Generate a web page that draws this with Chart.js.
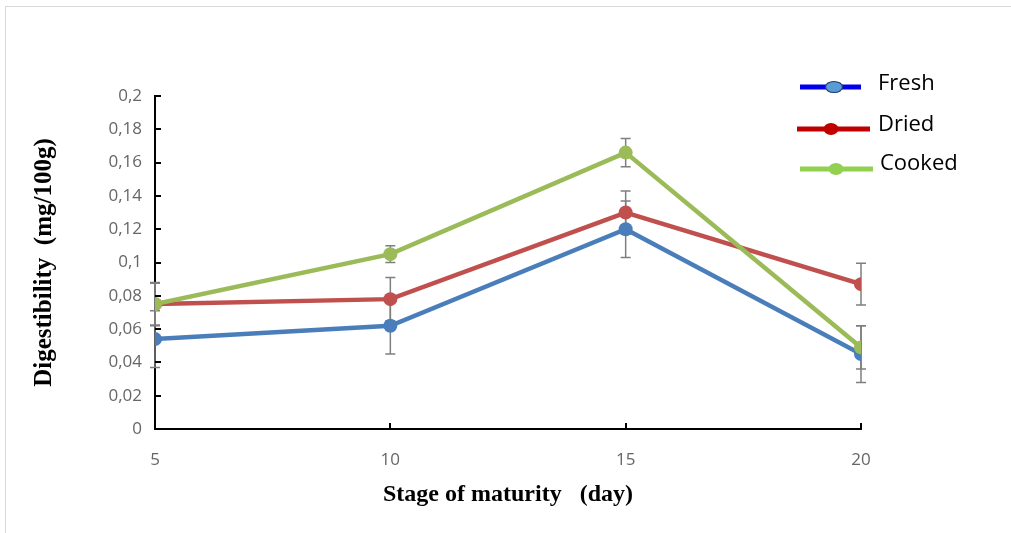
<!DOCTYPE html>
<html>
<head>
<meta charset="utf-8">
<script src="https://cdn.jsdelivr.net/npm/chart.js@4.4.1/dist/chart.umd.min.js"></script>
<style>
  html, body { margin: 0; padding: 0; background: #fff; }
  #wrap { position: relative; width: 1011px; height: 533px; overflow: hidden; }
  #frame { position: absolute; left: 5px; top: 6px; width: 1010px; height: 540px; border: 1px solid #d9d9d9; box-sizing: border-box; }
  canvas { position: absolute; left: 0; top: 0; }
</style>
</head>
<body>
<div id="wrap">
  <div id="frame"></div>
  <canvas id="c" width="1011" height="533"></canvas>
</div>
<script>
const days = [5, 10, 15, 20];
const fresh = [0.054, 0.062, 0.120, 0.045];
const dried = [0.075, 0.078, 0.130, 0.087];
const cooked = [0.075, 0.105, 0.166, 0.049];
const freshErr = [0.017, 0.017, 0.017, 0.017];
const driedErr = [0.013, 0.013, 0.013, 0.0125];
const cookedErr = [0.0125, 0.005, 0.0085, 0.013];
const yTickLabels = ['0', '0,02', '0,04', '0,06', '0,08', '0,1', '0,12', '0,14', '0,16', '0,18', '0,2'];
const xTickLabels = ['5', '10', '15', '20'];
const seriesNames = ['Fresh', 'Dried', 'Cooked'];

const lineColors = ['#4a7ebb', '#c0504d', '#9bbb59'];
const legendLine = ['#0000ee', '#c00000', '#92d050'];
const legendMarker = ['#5b9bd5', '#c00000', '#92d050'];

function pts(vals) { return days.map((d, i) => ({ x: d, y: vals[i] })); }

const errorBars = {
  id: 'errorBars',
  beforeDatasetsDraw(chart) {
    const ctx = chart.ctx;
    const xs = chart.scales.x, ys = chart.scales.y;
    ctx.save();
    ctx.strokeStyle = '#7f7f7f';
    ctx.lineWidth = 1.5;
    chart.data.datasets.forEach(ds => {
      ds.data.forEach((p, i) => {
        const e = ds.err[i];
        const x = xs.getPixelForValue(p.x);
        const y1 = ys.getPixelForValue(p.y + e);
        const y2 = ys.getPixelForValue(p.y - e);
        ctx.beginPath();
        ctx.moveTo(x, y1); ctx.lineTo(x, y2);
        ctx.moveTo(x - 5, y1); ctx.lineTo(x + 5, y1);
        ctx.moveTo(x - 5, y2); ctx.lineTo(x + 5, y2);
        ctx.stroke();
      });
    });
    ctx.restore();
  }
};

const axisTicks = {
  id: 'axisTicks',
  afterDraw(chart) {
    const ctx = chart.ctx;
    const xs = chart.scales.x, ys = chart.scales.y;
    const a = chart.chartArea;
    ctx.save();
    ctx.strokeStyle = '#000';
    ctx.lineWidth = 2;
    ys.ticks.forEach(t => {
      const y = Math.round(ys.getPixelForValue(t.value));
      ctx.beginPath(); ctx.moveTo(a.left, y); ctx.lineTo(a.left + 6, y); ctx.stroke();
    });
    xs.ticks.forEach(t => {
      const x = Math.round(xs.getPixelForValue(t.value));
      ctx.beginPath(); ctx.moveTo(x, a.bottom); ctx.lineTo(x, a.bottom - 6); ctx.stroke();
    });
    // custom legend
    const items = [
      { x1: 800, x2: 861, y: 87, mx: 834, tx: 878, ty: 84, ellipse: true },
      { x1: 797, x2: 870, y: 129, mx: 831, tx: 878, ty: 125 },
      { x1: 800, x2: 873, y: 169, mx: 836, tx: 880, ty: 164 }
    ];
    items.forEach((it, i) => {
      ctx.strokeStyle = legendLine[i];
      ctx.lineWidth = 5;
      ctx.lineCap = 'butt';
      ctx.beginPath(); ctx.moveTo(it.x1, it.y); ctx.lineTo(it.x2, it.y); ctx.stroke();
      ctx.beginPath();
      if (it.ellipse) {
        ctx.ellipse(it.mx, it.y, 8.5, 5.5, 0, 0, Math.PI * 2);
        ctx.fillStyle = legendMarker[i]; ctx.fill();
        ctx.lineWidth = 1.2; ctx.strokeStyle = '#1f3b6b'; ctx.stroke();
      } else {
        ctx.ellipse(it.mx, it.y, 7.5, 6, 0, 0, Math.PI * 2);
        ctx.fillStyle = legendMarker[i]; ctx.fill();
      }
      ctx.fillStyle = '#000';
      ctx.font = '22px "Open Sans", "Liberation Sans", sans-serif';
      ctx.textBaseline = 'middle';
      ctx.textAlign = 'left';
      ctx.fillText(seriesNames[i], it.tx, it.ty);
    });
    ctx.restore();
  }
};

const datasets = [fresh, dried, cooked].map((vals, i) => ({
  label: seriesNames[i],
  data: pts(vals),
  err: [freshErr, driedErr, cookedErr][i],
  borderColor: lineColors[i],
  backgroundColor: lineColors[i],
  borderWidth: 4.5,
  pointRadius: 7,
  pointHoverRadius: 7,
  pointBorderWidth: 0,
  tension: 0
}));
datasets[0].order = 3; datasets[1].order = 2; datasets[2].order = 1;

new Chart(document.getElementById('c'), {
  type: 'line',
  data: { datasets },
  plugins: [errorBars, axisTicks],
  options: {
    responsive: false,
    animation: false,
    layout: { padding: { left: 18, top: 96, right: 150, bottom: 0 } },
    plugins: { legend: { display: false }, tooltip: { enabled: false } },
    scales: {
      x: {
        type: 'linear', min: 5, max: 20,
        afterFit(s) { s.height = 104; },
        afterBuildTicks(s) { s.ticks = days.map(v => ({ value: v })); },
        grid: { display: false, drawTicks: false },
        border: { display: true, color: '#000', width: 2 },
        ticks: {
          padding: 21, color: '#666666',
          font: { family: '"Open Sans", "Liberation Sans", sans-serif', size: 17 },
          callback: (v, i) => xTickLabels[i]
        },
        title: {
          display: true, text: 'Stage of maturity   (day)', color: '#000',
          font: { family: '"Liberation Serif", "Times New Roman", serif', size: 24, weight: 'bold' },
          padding: { top: 0, bottom: 24 }
        }
      },
      y: {
        min: 0, max: 0.2,
        afterFit(s) { s.width = 137; },
        afterBuildTicks(s) { s.ticks = yTickLabels.map((l, i) => ({ value: i * 0.02 })); },
        grid: { display: false, drawTicks: false },
        border: { display: true, color: '#000', width: 2 },
        ticks: {
          padding: 13, color: '#666666',
          font: { family: '"Open Sans", "Liberation Sans", sans-serif', size: 17 },
          callback: (v, i) => yTickLabels[i]
        },
        title: {
          display: true, text: 'Digestibility  (mg/100g)', color: '#000',
          font: { family: '"Liberation Serif", "Times New Roman", serif', size: 25, weight: 'bold' },
          padding: { top: 12, bottom: 0 }
        }
      }
    }
  }
});
</script>
</body>
</html>
